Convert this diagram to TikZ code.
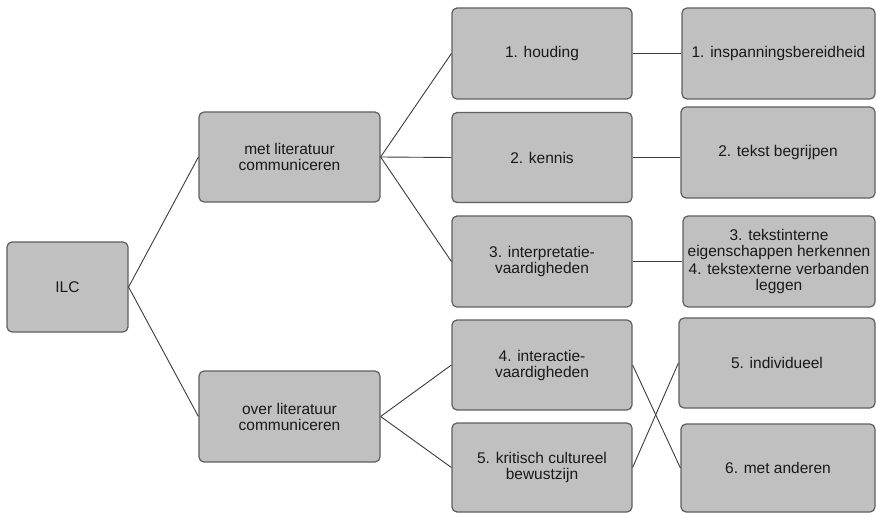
\documentclass[tikz,border=0pt]{standalone}
\usepackage{fontspec}
\setmainfont{Liberation Sans}
\definecolor{boxfill}{RGB}{192,192,192}
\definecolor{boxdraw}{RGB}{95,95,95}
\definecolor{linecol}{RGB}{60,60,60}
\definecolor{txtcol}{RGB}{25,25,25}
\tikzset{
  box/.style={draw=boxdraw, fill=boxfill, line width=1.2pt, rounded corners=5pt,
    rectangle, inner sep=1pt, align=center, text=txtcol,
    font=\fontsize{15.5}{16}\selectfont},
  conn/.style={draw=linecol, line width=0.9pt},
}
\begin{document}
\begin{tikzpicture}[x=1pt,y=-1pt]
\useasboundingbox (0,0) rectangle (876,513);
\clip (0,0) rectangle (876,513);
% level 0
\node[box, minimum width=121pt, minimum height=90pt] (ilc) at (67.5,287) {ILC};
% level 1
\node[box, minimum width=181pt, minimum height=90pt] (met) at (289.5,157) {met literatuur\\communiceren};
\node[box, minimum width=181pt, minimum height=91pt] (over) at (289.5,416.5) {over literatuur\\communiceren};
% level 2
\node[box, minimum width=180pt, minimum height=91pt] (houding) at (542,53.5) {1. houding};
\node[box, minimum width=180pt, minimum height=90pt] (kennis) at (542,157.5) {2. kennis};
\node[box, minimum width=180pt, minimum height=91pt] (interp) at (542,261.5) {3. interpretatie-\\vaardigheden};
\node[box, minimum width=180pt, minimum height=90pt] (interact) at (542,365) {4. interactie-\\vaardigheden};
\node[box, minimum width=180pt, minimum height=89pt] (kritisch) at (542,467.5) {5. kritisch cultureel\\bewustzijn};
% level 3
\node[box, minimum width=193pt, minimum height=91pt] (insp) at (778.5,53.5) {1. inspanningsbereidheid};
\node[box, minimum width=194pt, minimum height=91pt] (begrip) at (778,152.5) {2. tekst begrijpen};
\node[box, minimum width=192pt, minimum height=91pt] (tekst) at (779,261.5) {3. tekstinterne\\eigenschappen herkennen\\[2pt]4. tekstexterne verbanden\\leggen};
\node[box, minimum width=196pt, minimum height=90pt] (indiv) at (777,363) {5. individueel};
\node[box, minimum width=194pt, minimum height=88pt] (anderen) at (778,468) {6. met anderen};
% connectors
\draw[conn] (ilc.east) -- (met.west);
\draw[conn] (ilc.east) -- (over.west);
\draw[conn] (met.east) -- (houding.west);
\draw[conn] (met.east) -- (kennis.west);
\draw[conn] (met.east) -- (interp.west);
\draw[conn] (over.east) -- (interact.west);
\draw[conn] (over.east) -- (kritisch.west);
\draw[conn] (houding.east) -- (houding.east -| insp.west);
\draw[conn] (kennis.east) -- (kennis.east -| begrip.west);
\draw[conn] (interp.east) -- (interp.east -| tekst.west);
\draw[conn] (interact.east) -- (anderen.west);
\draw[conn] (kritisch.east) -- (indiv.west);
\end{tikzpicture}
\end{document}
